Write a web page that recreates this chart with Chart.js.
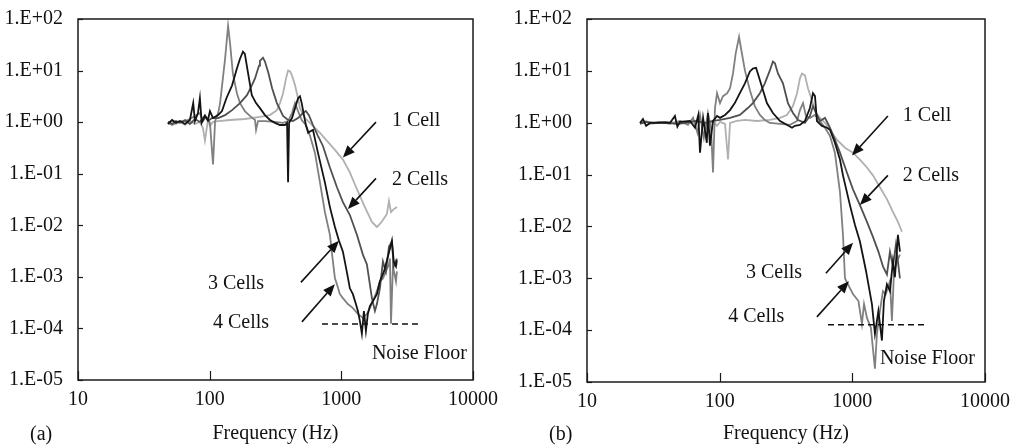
<!DOCTYPE html>
<html>
<head>
<meta charset="utf-8">
<title>Frequency response, 1 to 4 cells</title>
<script src="https://cdn.jsdelivr.net/npm/chart.js@4.4.1/dist/chart.umd.min.js"></script>
<style>
    html, body { margin: 0; padding: 0; background: #fff; }
    .wrap { display: flex; width: 1012px; height: 446px; }
    canvas { display: block; }
</style>
</head>
<body>
<div class="wrap">
    <canvas id="chartA" width="506" height="446"></canvas>
    <canvas id="chartB" width="506" height="446"></canvas>
</div>
<script>
// axis ticks
const xTicks = [10, 100, 1000, 10000];
const yTicks = [1e-5, 1e-4, 1e-3, 1e-2, 1e-1, 1, 10, 100];
const seriesNames = ['1 Cell', '2 Cells', '3 Cells', '4 Cells'];

// ---- panel (a) ----
const a1Freq = [48.2, 51.8, 55.5, 59.5, 65, 70.8, 77.3, 84.3, 88.9, 92.1, 97, 100.5, 106, 116, 143, 185, 241, 287, 324, 342, 361, 380, 394, 408, 422, 445, 469, 485, 529, 578, 630, 688, 778, 894, 1028, 1161, 1313, 1510, 1707, 1863, 1963, 2070, 2219, 2300, 2383, 2500, 2643];
const a1Mag = [0.97, 1.05, 0.92, 1.01, 0.88, 1.05, 0.92, 1.01, 0.77, 0.44, 1.10, 0.85, 1.01, 1.05, 1.10, 1.15, 1.26, 1.37, 1.71, 2.34, 3.63, 7.05, 10, 9.6, 8.05, 5.17, 2.91, 1.87, 1.20, 0.97, 0.77, 0.62, 0.435, 0.29, 0.188, 0.106, 0.05, 0.0225, 0.0116, 0.0093, 0.0106, 0.0127, 0.0166, 0.0294, 0.0181, 0.0206, 0.0225];

const a2Freq = [48.2, 51.8, 55.5, 59.5, 65, 70.8, 77.3, 84.3, 92.1, 97, 104, 116, 131, 148, 170, 192, 209, 221, 237, 241, 254, 263, 280, 298, 324, 361, 394, 429, 469, 511, 538, 567, 609, 664, 724, 819, 926, 1028, 1161, 1313, 1458, 1564, 1707, 1799, 1863, 1963, 2070, 2180, 2300, 2421, 2500, 2643];
const a2Mag = [1.01, 0.92, 1.05, 0.97, 1.10, 0.92, 1.15, 1.01, 1.37, 1.05, 1.20, 1.2, 1.37, 1.71, 2.34, 3.33, 5.17, 7.05, 12.5, 15.5, 17.8, 15, 8.8, 4.53, 2.34, 1.32, 1.10, 1.05, 1.20, 1.50, 1.64, 1.37, 0.88, 0.543, 0.349, 0.132, 0.0546, 0.0281, 0.0158, 0.00654, 0.0027, 0.00174, 0.000387, 0.000218, 0.000297, 0.0006, 0.00199, 0.00126, 0.00385, 0.0048, 0.0016, 0.00226];

const a3Freq = [48.2, 51.8, 55.5, 59.5, 65, 70.8, 75, 77.3, 81.5, 84.3, 87, 92.1, 97, 100.5, 106, 116, 124, 134, 148, 161, 170, 179, 185, 197, 209, 225, 241, 263, 287, 313, 342, 373, 387, 394, 401, 422, 445, 469, 485, 500, 520, 538, 560, 578, 609, 664, 750, 819, 894, 960, 1028, 1100, 1161, 1224, 1290, 1336, 1383, 1432, 1484, 1537, 1590, 1648, 1738, 1863, 1963, 2105, 2260, 2421, 2500, 2600, 2643];
const a3Mag = [0.92, 1.10, 0.97, 1.05, 0.92, 1.10, 2.34, 1.05, 1.5, 2.91, 0.97, 1.32, 1.10, 1.64, 1.20, 1.37, 1.64, 2.91, 5.17, 11, 17, 23.3, 21, 8.05, 3.33, 2.34, 1.87, 1.37, 1.10, 0.97, 0.88, 0.88, 0.97, 0.068, 0.97, 1.20, 1.87, 2.91, 3.18, 2.34, 1.37, 0.88, 0.62, 0.66, 0.708, 0.256, 0.068, 0.0225, 0.0093, 0.00502, 0.00308, 0.00126, 0.0006, 0.000461, 0.000297, 0.000218, 0.00014, 0.000079, 0.000218, 0.00009, 0.000191, 0.000272, 0.000339, 0.000461, 0.00082, 0.00126, 0.00247, 0.00502, 0.00199, 0.0016, 0.0021];

const a4Freq = [48.2, 51.8, 57.5, 65, 70.8, 77.3, 84.3, 88.9, 94, 100.5, 106, 110, 116, 120, 126, 131, 138, 143, 150, 161, 170, 185, 202, 221, 225, 233, 263, 313, 361, 394, 422, 445, 469, 500, 538, 578, 630, 688, 750, 819, 863, 894, 926, 975, 1028, 1120, 1224, 1336, 1458, 1564, 1648, 1738, 1863, 1963, 2070, 2180, 2300, 2340, 2383, 2465, 2600, 2643];
const a4Mag = [0.97, 0.88, 1.01, 1.05, 1.15, 1.32, 1.50, 1.05, 1.26, 0.97, 0.151, 1.05, 1.5, 2.34, 7.05, 17, 73.5, 33, 8.8, 3.63, 2.34, 1.64, 1.32, 1.10, 0.708, 1.05, 1.05, 1.01, 0.97, 1.05, 1.5, 2.34, 1.64, 1.10, 0.88, 0.543, 0.256, 0.068, 0.0181, 0.00654, 0.00199, 0.000935, 0.000718, 0.000461, 0.000387, 0.000297, 0.000248, 0.000191, 0.00016, 0.000191, 0.000248, 0.000339, 0.000527, 0.00082, 0.000935, 0.00128, 0.00174, 0.00226, 0.000123, 0.0016, 0.00082, 0.00128];

const aNoiseFreq = [713, 3820];
const aNoiseMag = [1.22e-4, 1.22e-4];

// callouts in data units: [text, freq, mag] and arrows [fromFreq, fromMag, toFreq, toMag]
const aLabels = [['1 Cell', 2421, 1.05], ['2 Cells', 2421, 0.0778], ['3 Cells', 97, 7.5e-4], ['4 Cells', 106, 1.28e-4], ['Noise Floor', 1706, 3.25e-5]];
const aArrows = [[1833, 1.0, 1028, 0.206], [1833, 0.0813, 1122, 0.0207], [493, 7.83e-4, 959, 5.02e-3], [502, 1.34e-4, 893, 7.2e-4]];

// ---- panel (b) ----
const b1Freq = [25.1, 27.9, 29.9, 35.5, 42.2, 50.2, 59.7, 71.1, 81.6, 89.1, 95.5, 100.6, 109.7, 115.6, 119.7, 135, 155, 191, 239, 285, 321, 357, 383, 403, 417, 439, 463, 496, 532, 570, 622, 678, 765, 880, 1011, 1141, 1289, 1430, 1614, 1823, 2023, 2206, 2365];
const b1Mag = [0.99, 1.08, 0.95, 0.99, 1.04, 0.95, 0.99, 1.04, 0.91, 1.08, 0.87, 1.04, 0.95, 0.195, 0.99, 1.08, 1.13, 1.08, 1.13, 1.24, 1.41, 2.09, 3.71, 7.16, 8.9, 8.17, 4.62, 2.72, 1.54, 1.24, 0.99, 0.73, 0.47, 0.33, 0.265, 0.195, 0.137, 0.0966, 0.057, 0.0336, 0.019, 0.0122, 0.0079];

const b2Freq = [25.1, 27.9, 32.5, 38.7, 46, 54.8, 65.2, 77.5, 89.1, 100.6, 119.7, 142, 163, 178, 201, 219, 239, 252, 261, 275, 300, 327, 357, 390, 439, 479, 505, 532, 570, 622, 678, 739, 807, 910, 1011, 1141, 1289, 1430, 1572, 1701, 1823, 1921, 2023, 2130, 2206, 2285];
const b2Mag = [0.95, 1.04, 0.99, 1.04, 0.95, 0.99, 1.08, 0.99, 1.08, 1.13, 1.24, 1.41, 1.92, 2.39, 3.71, 5.75, 10.2, 15.1, 14, 8.9, 5.75, 2.39, 1.54, 1.13, 0.99, 1.35, 2.09, 1.54, 1.08, 1.24, 0.80, 0.47, 0.265, 0.110, 0.052, 0.0258, 0.0122, 0.0063, 0.00327, 0.0017, 0.00119, 0.00327, 0.0017, 0.00446, 0.00211, 0.001];

const b3Freq = [25.1, 26.4, 27.9, 29.9, 35.5, 42.2, 46, 48, 50.2, 59.7, 65.2, 69, 71.1, 75, 80, 81.6, 84.5, 89.1, 95.5, 100.6, 109.7, 119.7, 130, 142, 155, 169, 178, 188, 194, 212, 227, 252, 285, 321, 351, 369, 403, 439, 479, 505, 523, 541, 590, 644, 678, 739, 807, 850, 959, 1047, 1141, 1267, 1405, 1480, 1572, 1671, 1730, 1823, 1921, 2023, 2094, 2206, 2285];
const b3Mag = [0.99, 1.18, 0.87, 0.99, 0.99, 0.99, 1.35, 0.84, 1.04, 1.08, 0.80, 1.41, 0.265, 1.24, 0.41, 1.54, 0.36, 1.08, 1.35, 1.24, 1.41, 1.75, 2.39, 3.71, 5.75, 9.75, 11.1, 11.5, 8.9, 4.23, 2.39, 1.54, 1.08, 0.91, 0.80, 0.87, 0.91, 1.08, 1.92, 3.71, 3.25, 1.08, 0.87, 0.80, 0.73, 0.41, 0.195, 0.0966, 0.0258, 0.0107, 0.0051, 0.0014, 0.000319, 0.000085, 0.000234, 0.000063, 0.000364, 0.000768, 0.000565, 0.00211, 0.00105, 0.0069, 0.00327];

const b4Freq = [25.1, 27.4, 29.9, 35.5, 42.2, 50.2, 57.7, 63, 68, 71.1, 76, 81.6, 86, 89.1, 92.2, 95.5, 100.6, 106, 114, 119.7, 126, 132, 140, 145, 155, 169, 184, 201, 219, 239, 285, 339, 383, 403, 425, 447, 479, 523, 570, 622, 678, 739, 807, 850, 880, 927, 1011, 1112, 1181, 1225, 1289, 1380, 1480, 1532, 1614, 1701, 1790, 1921, 1988, 2060, 2168, 2285];
const b4Mag = [0.99, 1.04, 0.99, 1.04, 0.95, 1.08, 0.91, 1.24, 0.64, 1.41, 0.51, 1.54, 0.80, 0.110, 1.92, 3.71, 2.39, 3.25, 3.71, 4.62, 8.9, 21.5, 45.3, 26.7, 10.2, 4.23, 2.09, 1.41, 1.13, 0.99, 0.95, 0.91, 1.08, 1.75, 2.39, 1.35, 1.24, 1.41, 1.08, 0.80, 0.56, 0.265, 0.0457, 0.0069, 0.001, 0.000768, 0.000495, 0.000364, 0.000132, 0.000319, 0.000172, 0.000111, 0.000018, 0.000085, 0.000234, 0.000565, 0.000495, 0.000877, 0.000151, 0.0013, 0.00211, 0.00287];

const bNoiseFreq = [655, 3467];
const bNoiseMag = [1.27e-4, 1.27e-4];

const bLabels = [['1 Cell', 2404, 1.35], ['2 Cells', 2404, 0.0966], ['3 Cells', 158, 1.30e-3], ['4 Cells', 116, 1.80e-4], ['Noise Floor', 1614, 2.84e-5]];
const bArrows = [[1854, 1.35, 993, 0.232], [1854, 0.0966, 1140, 0.0258], [632, 1.25e-3, 1012, 4.86e-3], [541, 1.80e-4, 942, 8.77e-4]];

// ---- drawing ----
const FONT = '"Liberation Serif", "Times New Roman", Times, serif';
const INK = '#111';
const lineColors = ['#b0b0b0', '#505050', '#141414', '#808080'];
const drawOrder = [4, 2, 1, 3]; // higher = further back

Chart.defaults.font.family = FONT;
Chart.defaults.font.size = 20;
Chart.defaults.color = INK;

function zip(xs, ys) {
    return xs.map((x, i) => ({ x: x, y: ys[i] }));
}

function sciLabel(v) {
    const e = Math.round(Math.log10(v));
    return '1.E' + (e < 0 ? '-' : '+') + String(Math.abs(e)).padStart(2, '0');
}

function drawArrow(ctx, x1, y1, x2, y2) {
    const ang = Math.atan2(y2 - y1, x2 - x1);
    const len = 12, half = 5;
    const bx = x2 - len * Math.cos(ang), by = y2 - len * Math.sin(ang);
    ctx.beginPath();
    ctx.moveTo(x1, y1);
    ctx.lineTo(bx, by);
    ctx.stroke();
    ctx.beginPath();
    ctx.moveTo(x2, y2);
    ctx.lineTo(bx + half * Math.sin(ang), by - half * Math.cos(ang));
    ctx.lineTo(bx - half * Math.sin(ang), by + half * Math.cos(ang));
    ctx.closePath();
    ctx.fill();
}

// frame, inward ticks, callouts and panel letter
const framePlugin = {
    id: 'frame',
    afterDraw(chart, args, opts) {
        const ctx = chart.ctx;
        const area = chart.chartArea;
        const xs = chart.scales.x, ys = chart.scales.y;
        ctx.save();
        ctx.strokeStyle = '#1a1a1a';
        ctx.fillStyle = INK;
        ctx.lineWidth = 1.5;
        ctx.strokeRect(area.left, area.top, area.right - area.left, area.bottom - area.top);

        ctx.lineWidth = 1.2;
        yTicks.forEach(v => {
            const py = Math.round(ys.getPixelForValue(v)) + 0.5;
            ctx.beginPath();
            ctx.moveTo(area.left, py);
            ctx.lineTo(area.left + 5, py);
            ctx.stroke();
        });
        xTicks.forEach(v => {
            const px = Math.round(xs.getPixelForValue(v)) + 0.5;
            ctx.beginPath();
            ctx.moveTo(px, area.bottom);
            ctx.lineTo(px, area.bottom - 9);
            ctx.stroke();
        });

        ctx.lineWidth = 1.6;
        ctx.strokeStyle = INK;
        opts.arrows.forEach(a => {
            drawArrow(ctx,
                xs.getPixelForValue(a[0]), ys.getPixelForValue(a[1]),
                xs.getPixelForValue(a[2]), ys.getPixelForValue(a[3]));
        });

        ctx.font = '20px ' + FONT;
        ctx.textAlign = 'left';
        ctx.textBaseline = 'middle';
        opts.labels.forEach(l => {
            ctx.fillText(l[0], xs.getPixelForValue(l[1]), ys.getPixelForValue(l[2]));
        });

        ctx.fillText(opts.panel, opts.panelX, 435);
        ctx.restore();
    }
};

function buildChart(id, series, noise, labels, arrows, panel, geom) {
    const datasets = series.map((s, i) => ({
        label: seriesNames[i],
        data: zip(s[0], s[1]),
        borderColor: lineColors[i],
        borderWidth: 1.8,
        pointRadius: 0,
        tension: 0,
        order: drawOrder[i]
    }));
    datasets.push({
        label: 'Noise Floor',
        data: zip(noise[0], noise[1]),
        borderColor: INK,
        borderWidth: 1.5,
        borderDash: [6, 4],
        pointRadius: 0,
        order: 0
    });

    return new Chart(document.getElementById(id), {
        type: 'line',
        data: { datasets: datasets },
        options: {
            responsive: false,
            animation: false,
            layout: { padding: { top: 15, right: geom.right, left: 0, bottom: 0 } },
            plugins: {
                legend: { display: false },
                tooltip: { enabled: false },
                frame: { labels: labels, arrows: arrows, panel: panel, panelX: geom.panelX }
            },
            scales: {
                x: {
                    type: 'logarithmic',
                    min: 10,
                    max: 10000,
                    grid: { display: false },
                    border: { display: false },
                    afterBuildTicks: scale => { scale.ticks = xTicks.map(v => ({ value: v })); },
                    afterFit: scale => { scale.height = geom.xHeight; },
                    ticks: {
                        autoSkip: false,
                        maxRotation: 0,
                        padding: 0,
                        color: INK,
                        callback: v => String(v)
                    },
                    title: {
                        display: true,
                        text: 'Frequency (Hz)',
                        color: INK,
                        font: { size: 20 },
                        padding: { top: 0, bottom: 0 }
                    }
                },
                y: {
                    type: 'logarithmic',
                    min: 1e-5,
                    max: 100,
                    grid: { display: false },
                    border: { display: false },
                    afterBuildTicks: scale => { scale.ticks = yTicks.map(v => ({ value: v })); },
                    afterFit: scale => { scale.width = geom.yWidth; },
                    ticks: {
                        autoSkip: false,
                        padding: 7,
                        color: INK,
                        callback: v => sciLabel(v)
                    }
                }
            }
        },
        plugins: [framePlugin]
    });
}

buildChart('chartA',
    [[a1Freq, a1Mag], [a2Freq, a2Mag], [a3Freq, a3Mag], [a4Freq, a4Mag]],
    [aNoiseFreq, aNoiseMag], aLabels, aArrows, '(a)',
    { yWidth: 78, xHeight: 66, right: 33, panelX: 30 });

buildChart('chartB',
    [[b1Freq, b1Mag], [b2Freq, b2Mag], [b3Freq, b3Mag], [b4Freq, b4Mag]],
    [bNoiseFreq, bNoiseMag], bLabels, bArrows, '(b)',
    { yWidth: 81, xHeight: 64, right: 27, panelX: 43 });
</script>
</body>
</html>
